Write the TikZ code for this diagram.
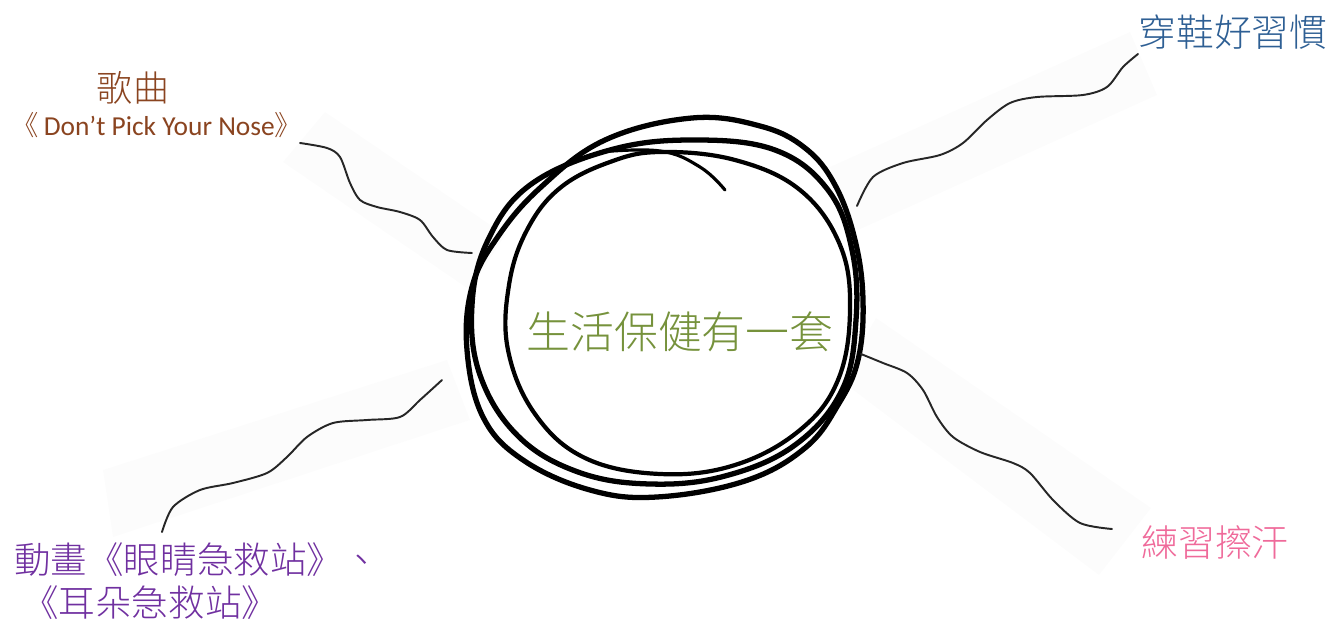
\documentclass[tikz,border=0pt]{standalone}
\usepackage{fontspec}
\setmainfont{Carlito}
\newfontfamily\cjk{Noto Sans CJK TC}[UprightFont={* Light}]
\definecolor{songbrown}{HTML}{8A4420}
\definecolor{shoeblue}{HTML}{2E5F94}
\definecolor{centregreen}{HTML}{76923C}
\definecolor{sweatpink}{HTML}{EF6A9A}
\definecolor{cartoonpurple}{HTML}{7030A0}
\begin{document}
\begin{tikzpicture}[x=0.02cm,y=-0.02cm,
    ring/.style={line width=3pt,line cap=round,line join=round},
    wave/.style={line width=1.1pt,black!85,line cap=round},
    band/.style={fill=black!1,draw=none},
    txt/.style={inner sep=0pt,anchor=base}]
  \useasboundingbox (0,0) rectangle (1341,621);
  % faint bands behind the leaders
  \fill[band] (283,162) -- (325,112) -- (505,235) -- (470,290) -- cycle;
  \fill[band] (830,167) -- (1130,32) -- (1157,95) -- (847,235) -- cycle;
  \fill[band] (876,318) -- (840,380) -- (1099,575) -- (1151,508) -- cycle;
  \fill[band] (447,360) -- (470,420) -- (113,537) -- (103,470) -- cycle;
  % the scribbled ring
  \draw[ring] plot[smooth cycle,tension=0.65] coordinates {(692,118) (760,126) (805,148) (835,185) (855,240) (863,300) (858,360) (838,405) (805,448) (745,481) (657,497) (590,490) (523,460) (483,417) (467,350) (472,287) (497,238) (540,188) (605,140)};
  \draw[ring] plot[smooth cycle,tension=0.65] coordinates {(693,140) (775,150) (828,190) (852,250) (856,320) (842,390) (795,445) (725,476) (650,484) (578,472) (518,436) (480,375) (472,305) (488,240) (530,185) (610,150)};
  \draw[ring,line width=2.4pt] plot[smooth cycle,tension=0.65] coordinates {(660,152) (735,160) (800,190) (840,245) (850,310) (838,380) (800,430) (735,465) (660,474) (585,458) (535,414) (508,350) (509,285) (527,230) (560,188) (610,162)};
  \draw[ring,line width=1.8pt] plot[smooth,tension=0.7] coordinates {(600,152) (660,151) (700,167) (725,190)};
  % labels
  \node[txt,text=centregreen,font=\cjk\fontsize{25pt}{30pt}\selectfont] (centre) at (680,348) {生活保健有一套};
  \node[txt,text=songbrown,font=\cjk\fontsize{20.5pt}{24pt}\selectfont] (song) at (133,102) {歌曲};
  \node[txt,text=songbrown,font=\fontsize{15.6pt}{19pt}\selectfont] (songName) at (157,136) {{\cjk 《}\,Don’t Pick Your Nose{\cjk 》}};
  \node[txt,text=shoeblue,font=\cjk\fontsize{21.5pt}{26pt}\selectfont] (shoes) at (1233,47) {穿鞋好習慣};
  \node[txt,text=sweatpink,font=\cjk\fontsize{21pt}{25pt}\selectfont] (sweat) at (1215,556) {練習擦汗};
  \node[txt,anchor=base west,text=cartoonpurple,font=\cjk\fontsize{20.8pt}{25pt}\selectfont] (cartoon) at (14,573) {動畫《眼睛急救站》、};
  \node[txt,anchor=base west,text=cartoonpurple,font=\cjk\fontsize{20.8pt}{25pt}\selectfont] (cartoonB) at (22,616) {《耳朵急救站》};
  % wavy leaders
  \coordinate (songEnd) at (300,143);
  \coordinate (ringUL) at (472,253);
  \coordinate (ringUR) at (857,206);
  \coordinate (shoesEnd) at (1138,54);
  \coordinate (ringLR) at (861,354);
  \coordinate (sweatEnd) at (1112,529);
  \coordinate (ringLL) at (442,380);
  \coordinate (cartoonEnd) at (162,532);
  \draw[wave] plot[smooth] coordinates {(songEnd) (327,148) (340,157) (350,183) (360,200) (377,207) (400,212) (420,220) (433,237) (447,250) (ringUL)};
  \draw[wave] plot[smooth] coordinates {(ringUR) (873,177) (903,163) (940,155) (963,143) (987,120) (1010,103) (1037,97) (1083,95) (1107,87) (1123,67) (shoesEnd)};
  \draw[wave] plot[smooth] coordinates {(ringLR) (883,363) (907,373) (923,390) (937,417) (953,437) (980,452) (1013,463) (1030,473) (1053,500) (1080,523) (sweatEnd)};
  \draw[wave] plot[smooth] coordinates {(ringLL) (420,400) (400,417) (367,420) (333,423) (307,437) (287,457) (267,473) (233,483) (200,490) (173,507) (cartoonEnd)};
\end{tikzpicture}
\end{document}
